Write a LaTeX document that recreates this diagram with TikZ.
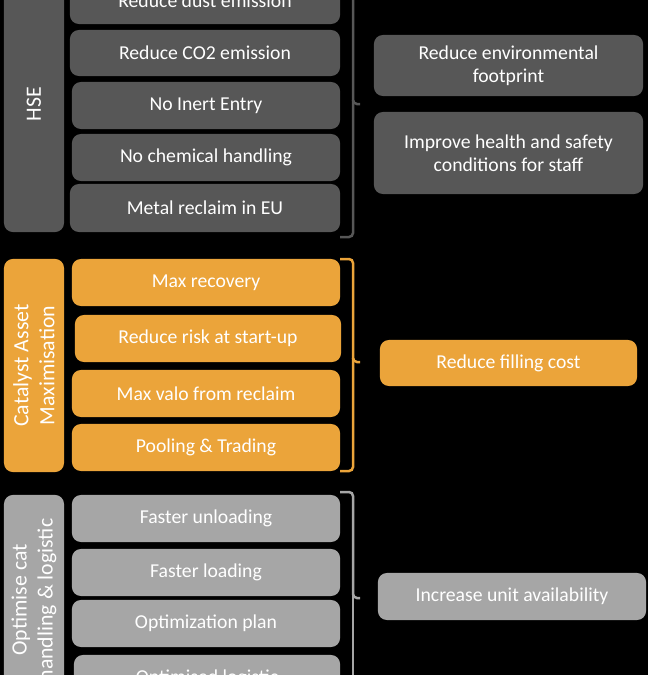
\documentclass[tikz,border=0pt]{standalone}
\usepackage{fontspec}
\setmainfont{Carlito}
\tikzstyle{darkrect} = [rectangle, rounded corners=0.09cm, text centered, text=white,
    fill=hsegrey, inner sep=0pt, font=\fontsize{5.6}{6.6}\selectfont]
\tikzstyle{orangerect} = [darkrect, fill=catorange]
\tikzstyle{lightrect} = [darkrect, fill=optgrey]
\tikzstyle{grouplabel} = [rotate=90, minimum height=0.6cm, align=center,
    font=\fontsize{6.2}{7.4}\selectfont]
\tikzstyle{bracket} = [line width=0.025cm, rounded corners=0.04cm]
\definecolor{hsegrey}{HTML}{575757}
\definecolor{catorange}{HTML}{EBA43A}
\definecolor{optgrey}{HTML}{A6A6A6}
\begin{document}
\begin{tikzpicture}[x=0.01cm, y=-0.01cm]
    \fill[black] (0,0) rectangle (648,675);
    \useasboundingbox (0,0) rectangle (648,675);
    \clip (0,0) rectangle (648,675);
    % HSE group
    \node (HSE) [darkrect, grouplabel, minimum width=2.56cm] at (34,104) {HSE};
    \node (Dust) [darkrect, minimum width=2.7cm, minimum height=0.46cm] at (205,1) {Reduce dust emission};
    \node (CO2) [darkrect, minimum width=2.7cm, minimum height=0.46cm] at (205,53) {Reduce CO2 emission};
    \node (Inert) [darkrect, minimum width=2.68cm, minimum height=0.47cm] at (206,105.5) {No Inert Entry};
    \node (Chemical) [darkrect, minimum width=2.68cm, minimum height=0.47cm] at (206,157.5) {No chemical handling};
    \node (Metal) [darkrect, minimum width=2.7cm, minimum height=0.48cm] at (205,208) {Metal reclaim in EU};
    \node (Footprint) [darkrect, minimum width=2.69cm, minimum height=0.61cm, align=center] at (508.5,65.5) {Reduce environmental\\footprint};
    \node (Safety) [darkrect, minimum width=2.69cm, minimum height=0.82cm, align=center] at (508.5,153) {Improve health and safety\\conditions for staff};
    \draw [bracket, hsegrey] (340,-30) -| (353,104) -- (360,104);
    \draw [bracket, hsegrey] (353,100) |- (340,237);

    % catalyst asset group
    \node (Asset) [orangerect, grouplabel, minimum width=2.13cm] at (34,365.5) {Catalyst Asset\\Maximisation};
    \node (Recovery) [orangerect, minimum width=2.68cm, minimum height=0.47cm] at (206,282.5) {Max recovery};
    \node (Risk) [orangerect, minimum width=2.66cm, minimum height=0.47cm] at (208,338.5) {Reduce risk at start-up};
    \node (Valo) [orangerect, minimum width=2.68cm, minimum height=0.47cm] at (206,393.5) {Max valo from reclaim};
    \node (Pooling) [orangerect, minimum width=2.68cm, minimum height=0.47cm] at (206,447.5) {Pooling \& Trading};
    \node (Filling) [orangerect, minimum width=2.57cm, minimum height=0.46cm] at (508.5,363) {Reduce filling cost};
    \draw [bracket, catorange] (340,259) -| (353,362) -- (360,362);
    \draw [bracket, catorange] (353,358) |- (340,471);

    % cat handling group
    \node (Handling) [lightrect, grouplabel, minimum width=2.1cm] at (34,600) {Optimise cat\\handling \& logistic};
    \node (Unloading) [lightrect, minimum width=2.68cm, minimum height=0.47cm] at (206,518.5) {Faster unloading};
    \node (Loading) [lightrect, minimum width=2.68cm, minimum height=0.47cm] at (206,572.5) {Faster loading};
    \node (Plan) [lightrect, minimum width=2.68cm, minimum height=0.47cm] at (206,623.5) {Optimization plan};
    \node (Logistic) [lightrect, minimum width=2.66cm, minimum height=0.47cm] at (207,678.5) {Optimised logistic};
    \node (Availability) [lightrect, minimum width=2.68cm, minimum height=0.47cm] at (512,596.5) {Increase unit availability};
    \draw [bracket, optgrey] (340,492) -| (353,598) -- (360,598);
    \draw [bracket, optgrey] (353,594) -- (353,700);
\end{tikzpicture}
\end{document}
